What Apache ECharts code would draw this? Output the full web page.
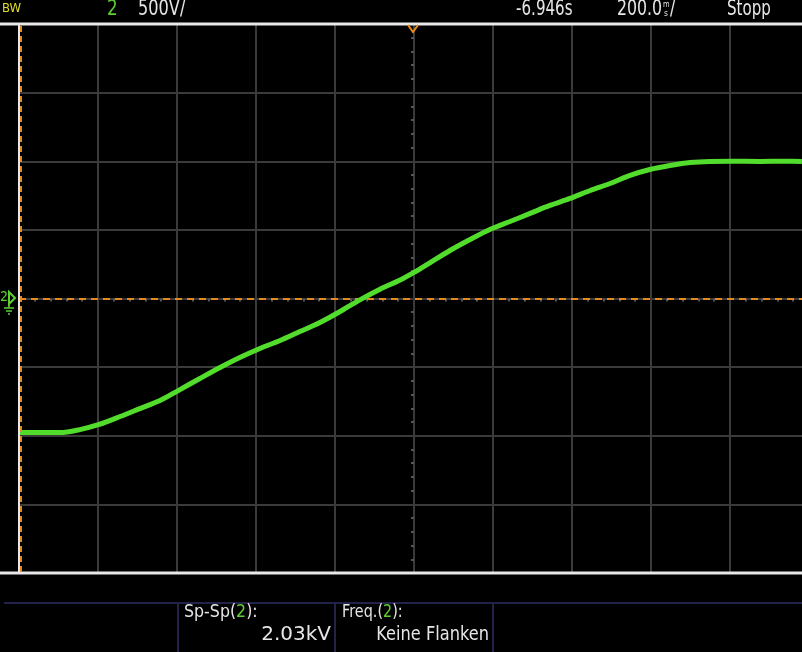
<!DOCTYPE html>
<html><head><meta charset="utf-8">
<script src="https://cdn.jsdelivr.net/npm/echarts@6/dist/echarts.min.js"></script>
<style>html,body{margin:0;padding:0;background:#000;}#c{width:802px;height:652px;}</style>
</head><body><div id="c"></div>
<script>
// time in ms relative to trigger, voltage in V (channel 2, 500 V/div, 200 ms/div)
var timeMs = [-1000,-950,-896,-846,-797,-744,-694,-643,-597,-542,-491,-441,-390,-339,-289,-238,-187,-137,-86,-35,0,41,91,142,192,243,294,344,395,446,496,547,597,648,699,749,800,876,940,982];
var voltsV = [-977,-977,-977,-955,-918,-860,-802,-743,-671,-583,-503,-430,-364,-306,-241,-175,-95,-10,68,135,190,262,350,430,503,561,620,678,729,787,838,897,940,969,991,999,1000,999,1000,999];
var xTicks = [-1000,-800,-600,-400,-200,0,200,400,600,800,1000];
var yTicks = [-2000,-1500,-1000,-500,0,500,1000,1500,2000];

var FONT = '"DejaVu Sans",sans-serif';
var data = timeMs.map(function(t,i){return [t, voltsV[i]];});
var chart = echarts.init(document.getElementById('c'));
var gridCol = '#3a3a3a';
function txt(x, y, s, size, sx, color, align, rich){
  var st = {text:s, fill:color||'#e6e6e6', font:size+'px '+FONT, textAlign:align||'left', textVerticalAlign:'top'};
  if (rich) st.rich = rich;
  return {type:'text', x:x, y:y, scaleX:sx, scaleY:1, style:st, z:12};
}
var G = '#5cd030';
chart.setOption({
  backgroundColor:'#000',
  animation:false,
  grid:{left:19, top:24, width:790, height:549, outerBoundsMode:'none', containLabel:false},
  xAxis:{type:'value', min:xTicks[0], max:xTicks[xTicks.length-1], interval:200,
    axisLabel:{show:false},
    axisLine:{show:true, onZero:true, lineStyle:{color:gridCol, width:2}},
    axisTick:{show:false},
    minorTick:{show:true, splitNumber:5, length:3, lineStyle:{color:'#555', width:2}},
    splitLine:{show:true, lineStyle:{color:gridCol, width:2}}},
  yAxis:{type:'value', min:yTicks[0], max:yTicks[yTicks.length-1], interval:500,
    axisLabel:{show:false},
    axisLine:{show:true, onZero:true, lineStyle:{color:gridCol, width:2}},
    axisTick:{show:false},
    minorTick:{show:true, splitNumber:5, length:3, lineStyle:{color:'#555', width:2}},
    splitLine:{show:true, lineStyle:{color:gridCol, width:2}}},
  series:[{
    type:'line', data:data, showSymbol:false, smooth:0.3,
    lineStyle:{color:'#52dc2c', width:5},
    markLine:{silent:true, symbol:'none', label:{show:false},
      lineStyle:{color:'#e8891c', width:2, type:[7,5]},
      data:[{yAxis:0}]},
    z:5
  }],
  graphic:[
    // frame lines
    {type:'line', shape:{x1:0,y1:24,x2:802,y2:24}, style:{stroke:'#e8e8e8', lineWidth:3}, z:10},
    {type:'line', shape:{x1:0,y1:573,x2:802,y2:573}, style:{stroke:'#e8e8e8', lineWidth:3}, z:10},
    {type:'line', shape:{x1:19,y1:24,x2:19,y2:573}, style:{stroke:'#e8e8e8', lineWidth:2}, z:10},
    {type:'line', shape:{x1:21,y1:26,x2:21,y2:572}, style:{stroke:'#e8891c', lineWidth:2, lineDash:[6,4]}, z:10},
    // trigger position marker
    {type:'polyline', shape:{points:[[408,25],[413,32],[418,25]]}, style:{stroke:'#e8891c', lineWidth:2, fill:null}, z:11},
    // ground marker ch2
    txt(0, 290, '2', 14, 0.9, G),
    {type:'polygon', shape:{points:[[9,292],[15,298],[9,304]]}, style:{fill:null, stroke:G, lineWidth:2}, z:11},
    {type:'line', shape:{x1:9,y1:298,x2:9,y2:308}, style:{stroke:G, lineWidth:1.5}, z:11},
    {type:'line', shape:{x1:4,y1:308,x2:14,y2:308}, style:{stroke:G, lineWidth:1.5}, z:11},
    {type:'line', shape:{x1:6,y1:311,x2:12,y2:311}, style:{stroke:G, lineWidth:1.5}, z:11},
    {type:'line', shape:{x1:8,y1:314,x2:10,y2:314}, style:{stroke:G, lineWidth:1.5}, z:11},
    // header texts
    txt(2, 2, 'BW', 13, 0.9, '#e0dc30'),
    txt(107, -1, '2', 21, 0.8, G),
    txt(138, -1, '500V/', 21, 0.77, '#e6e6e6'),
    txt(516, -1, '-6.946s', 21, 0.72, '#e6e6e6'),
    txt(617, -1, '200.0', 21, 0.75, '#e6e6e6'),
    txt(663, 1, 'm', 8, 0.85, '#e6e6e6'),
    txt(664, 9, 's', 9, 0.85, '#e6e6e6'),
    txt(670, -1, '/', 21, 0.75, '#e6e6e6'),
    txt(727, -1, 'Stopp', 21, 0.72, '#e6e6e6'),
    // bottom measurement area
    {type:'line', shape:{x1:4,y1:603,x2:802,y2:603}, style:{stroke:'#22224a', lineWidth:2}},
    {type:'line', shape:{x1:178,y1:604,x2:178,y2:652}, style:{stroke:'#22224a', lineWidth:2}},
    {type:'line', shape:{x1:335,y1:604,x2:335,y2:652}, style:{stroke:'#22224a', lineWidth:2}},
    {type:'line', shape:{x1:493,y1:604,x2:493,y2:652}, style:{stroke:'#22224a', lineWidth:2}},
    txt(184, 603, 'Sp-Sp({g|2}):', 18, 0.88, '#e6e6e6', 'left', {g:{fill:G, font:'18px '+FONT}}),
    txt(331, 625, '2.03kV', 20, 1.0, '#e6e6e6', 'right'),
    txt(342, 603, 'Freq.({g|2}):', 18, 0.8, '#e6e6e6', 'left', {g:{fill:G, font:'18px '+FONT}}),
    txt(489, 625, 'Keine Flanken', 20, 0.81, '#e6e6e6', 'right')
  ]
});
</script></body></html>
